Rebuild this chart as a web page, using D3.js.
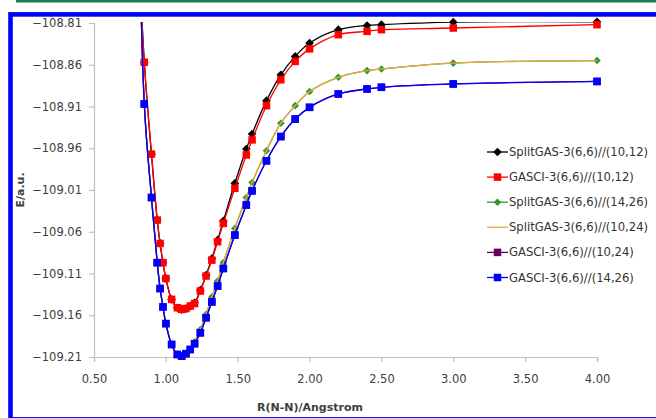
<!DOCTYPE html>
<html>
<head>
<meta charset="utf-8">
<script src="https://cdn.jsdelivr.net/npm/d3@7"></script>
<style>
    body { margin: 0; background: #fff; }
    svg { display: block; }
</style>
</head>
<body>
<svg id="viz" width="656" height="418"></svg>
<script>
// bond lengths (Angstrom)
let rValues = [0.80, 0.85, 0.90, 0.94, 0.96, 0.98, 1.00, 1.04, 1.08, 1.11, 1.14, 1.17, 1.20, 1.24, 1.28,
    1.32, 1.36, 1.40, 1.48, 1.56, 1.60, 1.70, 1.80, 1.90, 2.00, 2.20, 2.40, 2.50, 3.00, 4.00];

let splitGas1012 = [-108.680, -108.857, -108.967, -109.046, -109.074, -109.097, -109.116, -109.141, -109.151, -109.153,
    -109.152, -109.149, -109.145, -109.130, -109.112, -109.092, -109.070, -109.047, -109.002, -108.961,
    -108.943, -108.903, -108.872, -108.850, -108.834, -108.818, -108.813, -108.812, -108.809, -108.8085];
let gasci1012 = [-108.680, -108.857, -108.967, -109.046, -109.074, -109.097, -109.116, -109.141, -109.151, -109.153,
    -109.152, -109.149, -109.146, -109.131, -109.113, -109.094, -109.072, -109.050, -109.008, -108.968,
    -108.950, -108.909, -108.878, -108.856, -108.841, -108.824, -108.820, -108.818, -108.816, -108.812];
let splitGas1426 = [-108.550, -108.907, -109.019, -109.097, -109.128, -109.150, -109.170, -109.195, -109.207, -109.209,
    -109.206, -109.201, -109.192, -109.177, -109.159, -109.138, -109.119, -109.097, -109.056, -109.019,
    -109.001, -108.963, -108.930, -108.909, -108.892, -108.875, -108.867, -108.865, -108.858, -108.855];
let splitGas1024 = [-108.550, -108.907, -109.019, -109.097, -109.128, -109.150, -109.170, -109.195, -109.207, -109.209,
    -109.206, -109.201, -109.192, -109.177, -109.159, -109.138, -109.119, -109.097, -109.056, -109.019,
    -109.001, -108.963, -108.930, -108.909, -108.892, -108.875, -108.867, -108.865, -108.858, -108.855];
let gasci1024 = [-108.550, -108.907, -109.019, -109.097, -109.128, -109.150, -109.170, -109.195, -109.207, -109.209,
    -109.206, -109.201, -109.194, -109.181, -109.163, -109.144, -109.125, -109.104, -109.064, -109.028,
    -109.011, -108.975, -108.946, -108.925, -108.911, -108.895, -108.889, -108.887, -108.883, -108.880];
let gasci1426 = [-108.550, -108.907, -109.019, -109.097, -109.128, -109.150, -109.170, -109.195, -109.207, -109.209,
    -109.206, -109.201, -109.194, -109.181, -109.163, -109.144, -109.125, -109.104, -109.064, -109.028,
    -109.011, -108.975, -108.946, -108.925, -108.911, -108.895, -108.889, -108.887, -108.883, -108.880];

let seriesNames = ["SplitGAS-3(6,6)//(10,12)", "GASCI-3(6,6)//(10,12)", "SplitGAS-3(6,6)//(14,26)",
    "SplitGAS-3(6,6)//(10,24)", "GASCI-3(6,6)//(10,24)", "GASCI-3(6,6)//(14,26)"];
let xTicks = [0.5, 1.0, 1.5, 2.0, 2.5, 3.0, 3.5, 4.0];
let yTicks = [-108.81, -108.86, -108.91, -108.96, -109.01, -109.06, -109.11, -109.16, -109.21];

let styles = [
    {color: "#000000", marker: "diamond", size: 8},
    {color: "#ff0000", marker: "square", size: 7.5},
    {color: "#2e9a2e", marker: "diamond", size: 7},
    {color: "#f5a640", marker: "none", size: 0},
    {color: "#660066", marker: "square", size: 7.5},
    {color: "#0000ff", marker: "square", size: 7.5}
];
let allValues = [splitGas1012, gasci1012, splitGas1426, splitGas1024, gasci1024, gasci1426];

let svg = d3.select("#viz");

// frame decoration
svg.append("rect").attr("x", 16).attr("y", 0).attr("width", 640).attr("height", 2.5).attr("fill", "#1b7d4d");
svg.append("rect")
    .attr("x", 10.5).attr("y", 14.4)
    .attr("width", 700).attr("height", 405)
    .attr("fill", "none")
    .attr("stroke", "#0000ff")
    .attr("stroke-width", 4.6);

let x = d3.scaleLinear().domain([0.5, 4.0]).range([94, 597]);
let y = d3.scaleLinear().domain([-109.21, -108.81]).range([357, 23]);

svg.append("defs").append("clipPath").attr("id", "plotclip")
    .append("rect").attr("x", 94).attr("y", 22).attr("width", 540).attr("height", 340);

let fontFamily = "'DejaVu Sans', sans-serif";

let yAxis = svg.append("g")
    .attr("transform", "translate(94,0)")
    .call(d3.axisLeft(y).tickValues(yTicks).tickFormat(d3.format(".2f")).tickSize(5).tickPadding(7));
let xAxis = svg.append("g")
    .attr("transform", "translate(0,357)")
    .call(d3.axisBottom(x).tickValues(xTicks).tickFormat(d3.format(".2f")).tickSize(5).tickPadding(13));

[yAxis, xAxis].forEach(function (ax) {
    ax.selectAll("path, line").attr("stroke", "#bfbfbf").attr("stroke-width", 1.2);
    ax.selectAll("text")
        .attr("fill", "#404040")
        .style("font-family", fontFamily)
        .style("font-size", "11.5px");
});

svg.append("text")
    .attr("x", 310).attr("y", 411)
    .attr("text-anchor", "middle")
    .style("font-family", fontFamily)
    .style("font-size", "11px")
    .style("font-weight", "bold")
    .attr("fill", "#404040")
    .text("R(N-N)/Angstrom");

svg.append("text")
    .attr("transform", "translate(24,190) rotate(-90)")
    .attr("text-anchor", "middle")
    .style("font-family", fontFamily)
    .style("font-size", "11px")
    .style("font-weight", "bold")
    .attr("fill", "#404040")
    .text("E/a.u.");

function markerPath(type, size) {
    if (type === "diamond") {
        return d3.symbol().type(d3.symbolDiamond2).size(size * size * 0.75)();
    }
    let h = size / 2;
    return "M" + (-h) + "," + (-h) + "h" + size + "v" + size + "h" + (-size) + "Z";
}

let line = d3.line()
    .x(function (d) { return x(d[0]); })
    .y(function (d) { return y(d[1]); })
    .curve(d3.curveCatmullRom.alpha(0.5));

let plot = svg.append("g");

allValues.forEach(function (values, i) {
    let st = styles[i];
    let pts = rValues.map(function (r, j) { return [r, values[j]]; });
    plot.append("path")
        .datum(pts)
        .attr("clip-path", "url(#plotclip)")
        .attr("fill", "none")
        .attr("stroke", st.color)
        .attr("stroke-width", 1.3)
        .attr("d", line);
    if (st.marker === "none") return;
    plot.append("g")
        .selectAll("path")
        .data(pts.filter(function (d) { return d[1] <= -108.808; }))
        .enter()
        .append("path")
        .attr("transform", function (d) { return "translate(" + x(d[0]) + "," + y(d[1]) + ")"; })
        .attr("d", markerPath(st.marker, st.size))
        .attr("fill", st.color);
});

// legend
let legend = svg.append("g")
    .selectAll("g")
    .data(seriesNames)
    .enter()
    .append("g")
    .attr("transform", function (d, i) { return "translate(487," + (152 + i * 25.1) + ")"; });

legend.append("line")
    .attr("x1", 0).attr("x2", 21)
    .attr("stroke", function (d, i) { return styles[i].color; })
    .attr("stroke-width", 1.3);
legend.append("path")
    .attr("transform", "translate(10.5,0)")
    .attr("d", function (d, i) {
        return styles[i].marker === "none" ? "" : markerPath(styles[i].marker, styles[i].size);
    })
    .attr("fill", function (d, i) { return styles[i].color; });
legend.append("text")
    .attr("x", 22).attr("dy", "0.35em")
    .style("font-family", fontFamily)
    .style("font-size", "11.6px")
    .attr("fill", "#333333")
    .text(function (d) { return d; });
</script>
</body>
</html>
